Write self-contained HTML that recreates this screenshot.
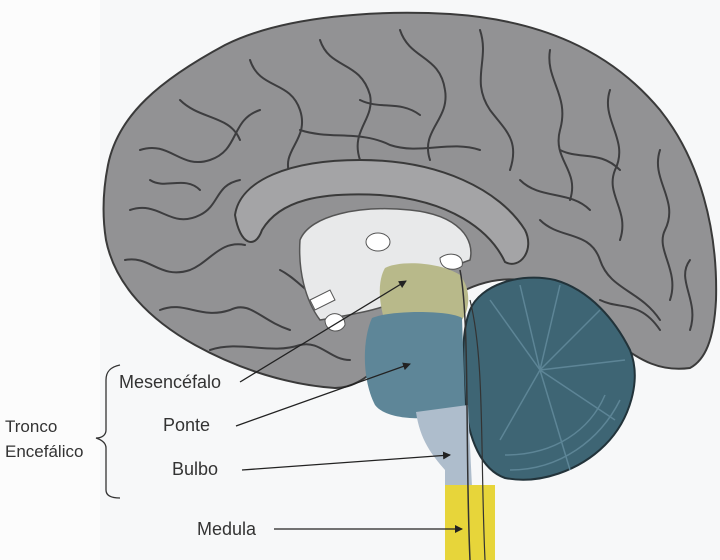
<!DOCTYPE html>
<html><head><meta charset="utf-8"><style>
html,body{margin:0;padding:0;background:#fff}
svg{display:block}
text{font-family:"Liberation Sans",sans-serif;font-size:18px;fill:#333}
</style></head><body>
<svg width="720" height="560" viewBox="0 0 720 560" xmlns="http://www.w3.org/2000/svg">
<defs>
<marker id="ar" markerWidth="8" markerHeight="8" refX="7" refY="4" orient="auto" markerUnits="userSpaceOnUse"><path d="M0,0 L8,4 L0,8 z" fill="#222"/></marker>
</defs>
<rect width="720" height="560" fill="#f7f8f9"/>
<rect x="0" y="0" width="100" height="560" fill="#fcfcfc"/>
<path d="M108,165 C118,115 160,80 225,45 C285,15 380,10 450,14 C540,20 610,50 660,110 C700,160 718,230 716,300 C714,340 705,360 690,368 C660,372 640,360 620,345 C590,320 560,290 520,280 C480,275 440,300 410,330 C385,360 365,388 335,388 C290,385 240,370 195,345 C150,320 115,285 106,240 C102,215 103,190 108,165 Z" fill="#929294" stroke="#3a3a3a" stroke-width="2"/>
<g fill="none" stroke="#3d3d3f" stroke-width="2" stroke-linecap="round">
<path d="M140,150 C170,140 180,170 210,160 C240,150 230,120 260,110"/>
<path d="M130,210 C160,200 170,230 200,215 C220,205 215,185 240,180"/>
<path d="M125,260 C150,255 160,280 190,270 C210,262 220,240 245,245"/>
<path d="M160,310 C185,300 200,320 230,310 C250,300 260,320 290,330"/>
<path d="M210,350 C240,340 270,355 300,345 C320,340 330,360 350,360"/>
<path d="M250,60 C260,90 290,80 300,110 C310,140 280,150 290,175"/>
<path d="M320,40 C330,70 360,60 370,95 C375,120 350,130 360,160"/>
<path d="M400,30 C410,60 440,55 445,90 C450,120 420,130 430,160"/>
<path d="M480,30 C490,60 470,80 490,110 C505,130 520,140 510,170"/>
<path d="M550,50 C545,80 570,95 560,130 C552,160 580,170 570,200"/>
<path d="M610,90 C600,120 630,140 615,170 C605,195 630,210 620,240"/>
<path d="M660,150 C650,180 680,200 665,230 C655,250 680,270 670,300"/>
<path d="M690,260 C675,280 700,300 690,330"/>
<path d="M540,220 C560,240 590,230 600,260 C610,290 640,290 660,320"/>
<path d="M520,180 C540,200 570,190 590,210"/>
<path d="M180,100 C200,120 230,115 240,140"/>
<path d="M300,130 C330,140 360,130 390,145 C420,155 450,140 480,150"/>
<path d="M150,180 C165,190 185,175 200,190"/>
<path d="M280,270 C300,280 310,300 330,300"/>
<path d="M600,300 C620,310 640,300 660,330"/>
<path d="M360,100 C380,110 400,100 420,115"/>
<path d="M560,150 C580,160 600,150 620,170"/>
</g>
<path d="M235,215 C240,180 290,160 360,160 C440,160 500,190 525,230 C535,250 520,270 505,262 C490,230 450,200 380,195 C320,192 280,200 262,230 C255,250 240,245 235,215 Z" fill="#a4a4a6" stroke="#3a3a3a" stroke-width="2"/>
<path d="M300,240 C310,215 360,205 410,210 C460,215 475,240 470,260 C440,270 420,290 400,300 C380,310 350,315 320,320 C305,300 298,270 300,240 Z" fill="#e8e9ea" stroke="#555" stroke-width="1.5"/>
<ellipse cx="378" cy="242" rx="12" ry="9" fill="#fff" stroke="#555"/>
<path d="M440,258 C450,250 465,255 462,266 C455,272 440,270 440,258 Z" fill="#fff" stroke="#555"/>
<path d="M310,300 L330,290 L335,300 L315,310 Z" fill="#fff" stroke="#555"/>
<path d="M325,320 C330,310 345,312 345,325 C340,335 325,332 325,320 Z" fill="#fff" stroke="#555"/>
<path d="M385,268 C400,260 440,262 460,275 C472,290 470,312 460,322 L385,322 C378,300 378,280 385,268 Z" fill="#b8b98a"/>
<path d="M470,310 C480,285 520,272 555,280 C590,290 615,320 630,350 C642,380 630,420 605,445 C580,470 540,485 505,478 C482,470 468,440 465,400 C462,360 462,330 470,310 Z" fill="#3e6574" stroke="#22333a" stroke-width="2"/>
<g fill="none" stroke="#5d8596" stroke-width="1.5">
<path d="M540,370 L490,300"/><path d="M540,370 L520,285"/><path d="M540,370 L560,285"/><path d="M540,370 L600,310"/>
<path d="M540,370 L625,360"/><path d="M540,370 L615,420"/><path d="M540,370 L570,470"/><path d="M540,370 L500,440"/>
<path d="M510,470 C560,470 600,440 620,400"/><path d="M505,455 C555,455 590,430 605,395"/>
</g>
<path d="M372,318 C390,310 450,310 462,318 L465,405 C455,420 390,425 375,405 C362,380 362,340 372,318 Z" fill="#5e8698"/>
<path d="M416,412 L468,405 L472,487 L445,487 L445,470 C432,455 420,440 416,412 Z" fill="#aebdcc"/>
<rect x="445" y="485" width="50" height="75" fill="#e7d53a"/>
<path d="M460,270 C470,320 465,450 470,560" fill="none" stroke="#333" stroke-width="1.5"/>
<path d="M470,300 C485,360 480,450 485,560" fill="none" stroke="#333" stroke-width="1.2"/>
<text x="119" y="388">Mesencéfalo</text>
<text x="163" y="431">Ponte</text>
<text x="172" y="475">Bulbo</text>
<text x="197" y="535">Medula</text>
<text x="5" y="432" style="font-size:17px">Tronco</text>
<text x="5" y="457" style="font-size:17px">Encefálico</text>
<path d="M120,365 C110,367 106,372 106,380 L106,430 C106,435 102,438 96,438 C102,440 106,443 106,448 L106,490 C106,495 110,498 120,498" fill="none" stroke="#333" stroke-width="1.3"/>
<g stroke="#222" stroke-width="1.3" marker-end="url(#ar)">
<line x1="240" y1="382" x2="406" y2="281"/>
<line x1="236" y1="426" x2="410" y2="364"/>
<line x1="242" y1="470" x2="450" y2="455"/>
<line x1="274" y1="529" x2="462" y2="529"/>
</g>
</svg>
</body></html>
